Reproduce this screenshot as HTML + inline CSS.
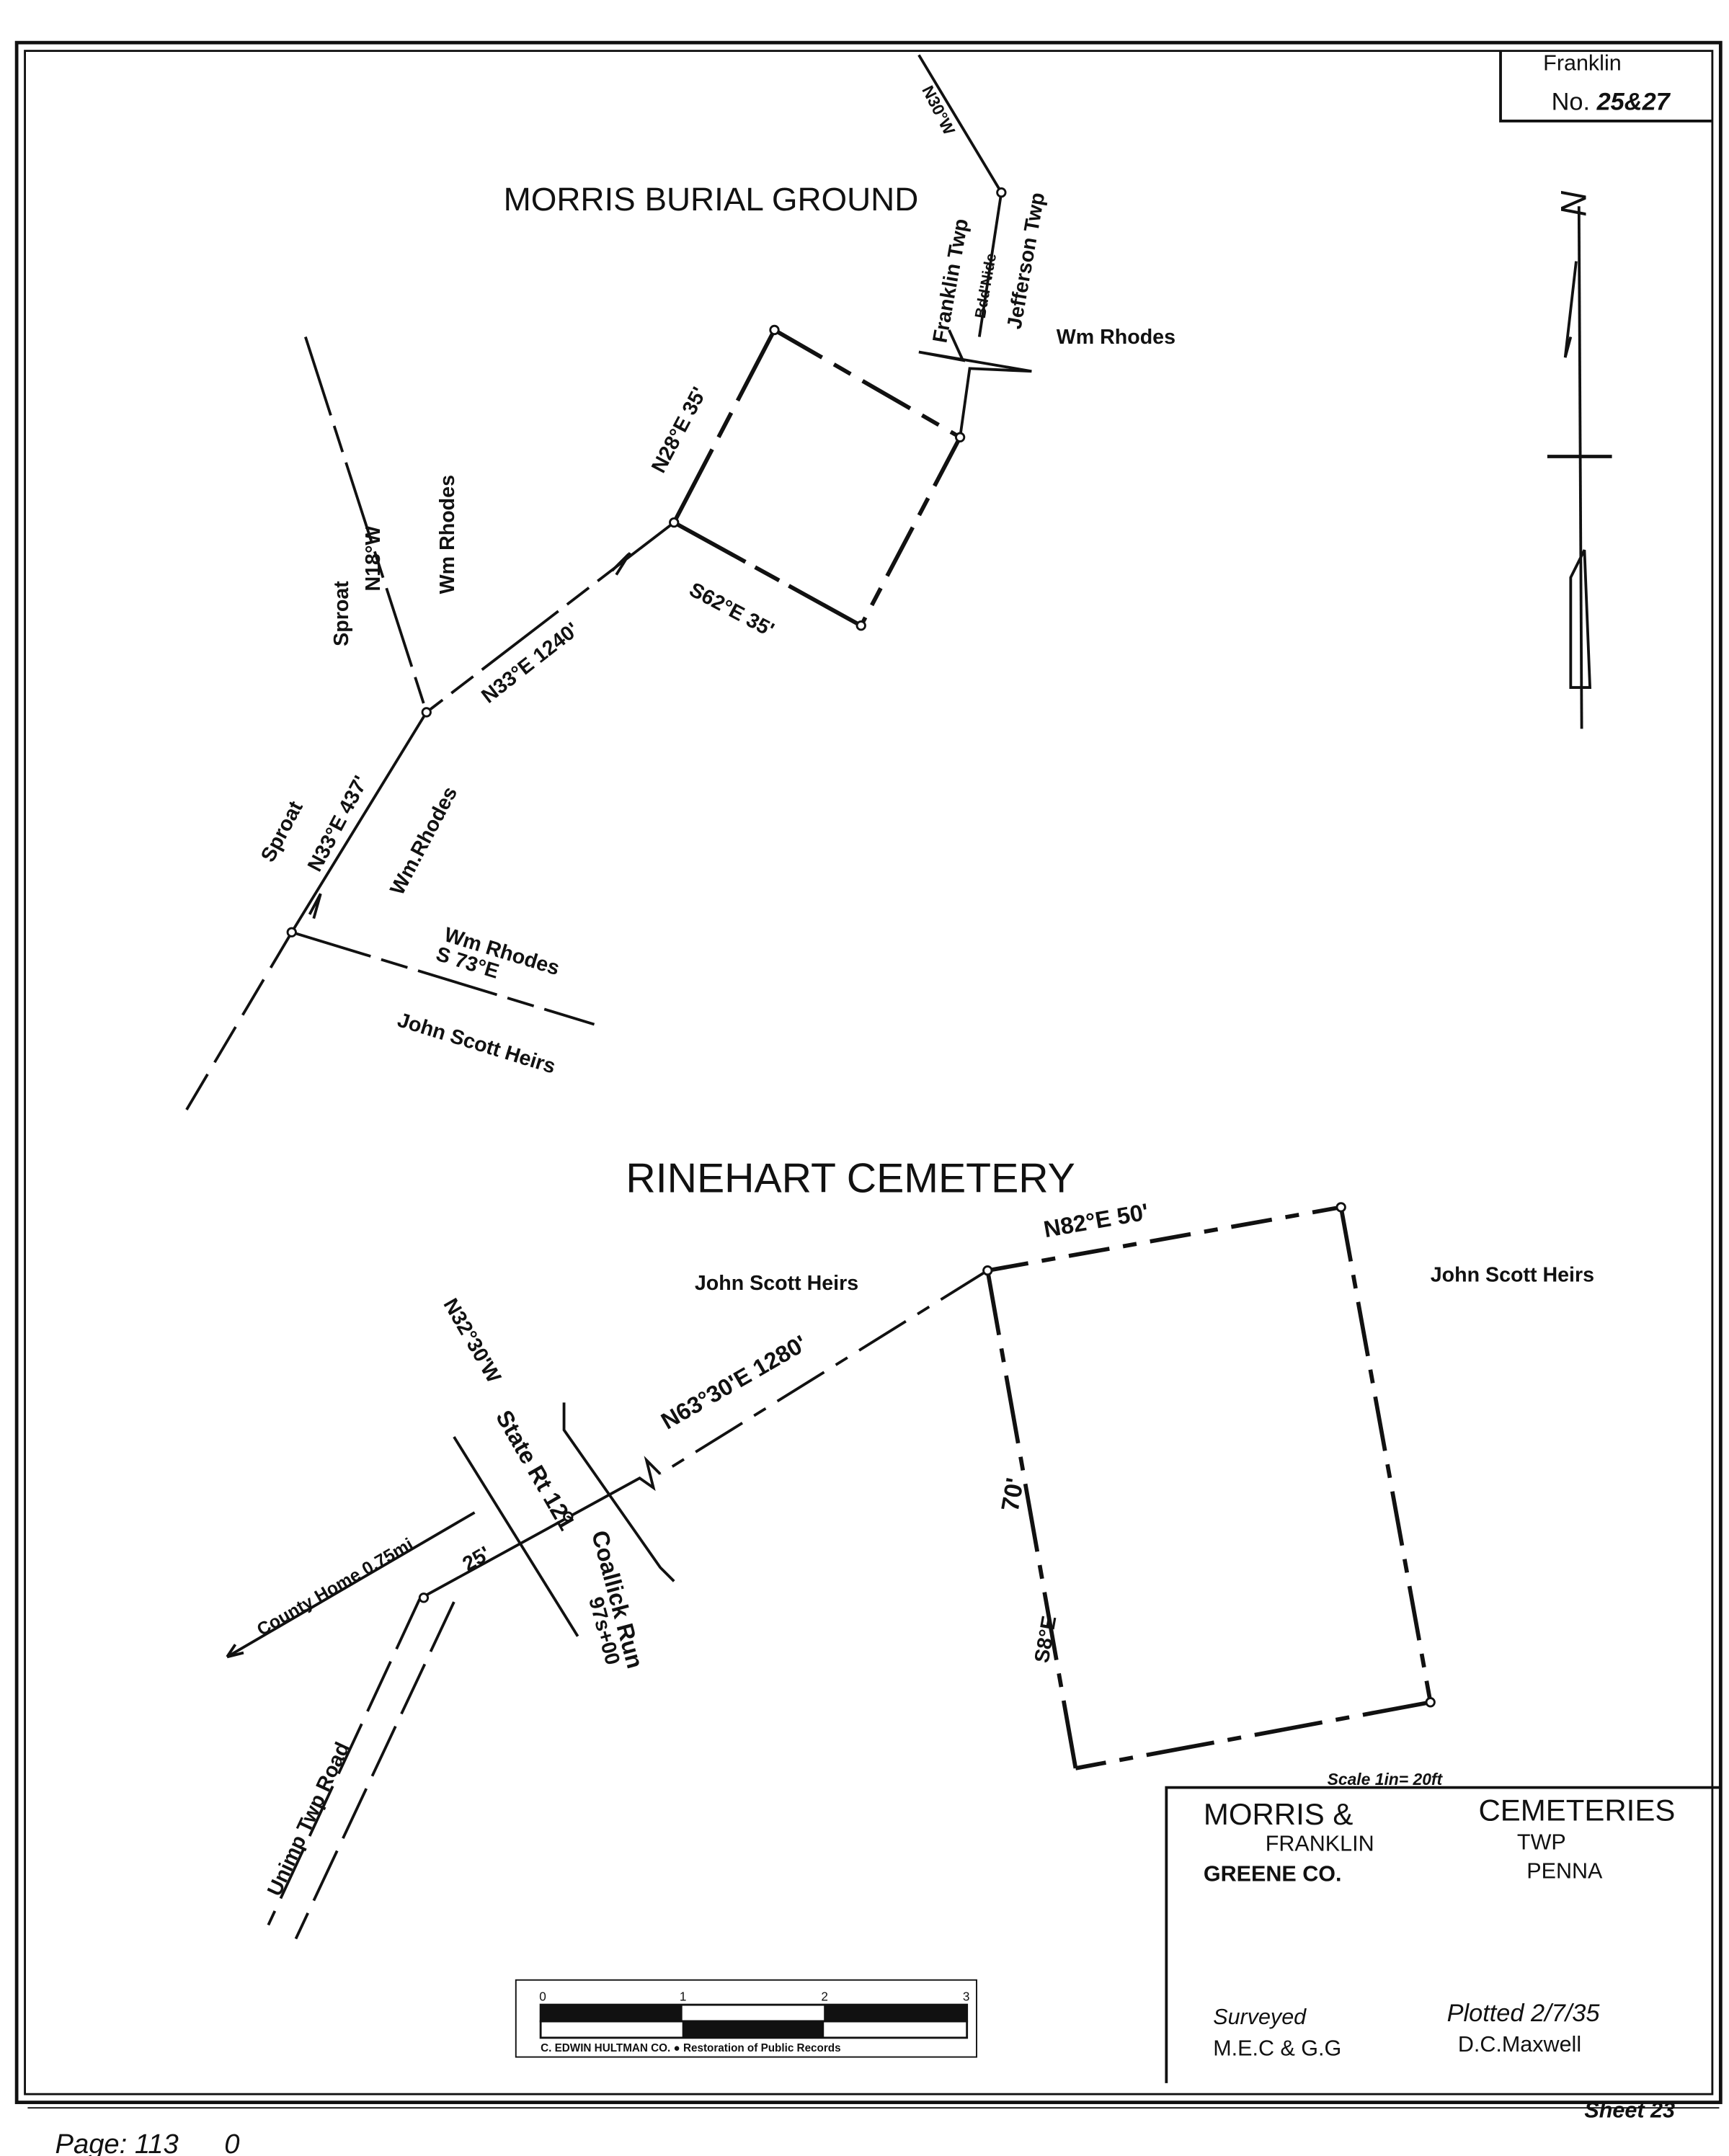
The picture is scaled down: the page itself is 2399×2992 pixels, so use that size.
<!DOCTYPE html>
<html><head><meta charset="utf-8"><style>
html,body{margin:0;padding:0;background:#fff;}
svg{display:block;}
text{font-family:"Liberation Sans",sans-serif;fill:#111;}
</style></head><body>
<svg width="2399" height="2992" viewBox="0 0 1257 1568" xmlns="http://www.w3.org/2000/svg">
<rect width="1257" height="1568" fill="#fff"/>
<g fill="none" stroke="#111">
<rect x="12" y="31" width="1239" height="1498" stroke-width="2.5"/>
<rect x="18" y="37" width="1227" height="1486" stroke-width="1.5"/>
<polyline points="1091,37 1091,88 1245,88" stroke-width="2"/>
<!-- north arrow -->
<line x1="1148" y1="150" x2="1150" y2="530" stroke-width="2"/>
<polyline points="1146,190 1138,260 1142,245" stroke-width="2"/>
<line x1="1125" y1="332" x2="1172" y2="332" stroke-width="2.5"/>
<polygon points="1152,400 1142,420 1142,500 1156,500" stroke-width="2"/>
<!-- Morris -->
<g stroke-width="3">
<line x1="563" y1="240" x2="698" y2="318" stroke-dasharray="40,10,14,10"/>
<line x1="698" y1="318" x2="626" y2="455" stroke-dasharray="40,10,14,10"/>
<line x1="626" y1="455" x2="490" y2="380" stroke-dasharray="60,8,20,8"/>
<line x1="490" y1="380" x2="563" y2="240" stroke-dasharray="60,10,20,10"/>
</g>
<g stroke-width="2">
<line x1="490" y1="380" x2="310" y2="518" stroke-dasharray="70,8,20,8"/>
<path d="M445,415 l12,-12 M448,418 l10,-16"/>
<line x1="222" y1="245" x2="310" y2="518" stroke-dasharray="60,8,20,8"/>
<line x1="310" y1="518" x2="212" y2="678"/>
<path d="M225,665 l8,-15 l-5,18"/>
<line x1="212" y1="678" x2="135" y2="808" stroke-dasharray="30,10"/>
<line x1="212" y1="678" x2="432" y2="745" stroke-dasharray="60,8,20,8"/>
<polyline points="668,40 728,140 712,245"/>
<polyline points="690,240 700,262 668,256 750,270 705,268 698,318"/>
</g>
<g fill="#fff" stroke-width="1.5">
<circle cx="563" cy="240" r="3"/><circle cx="698" cy="318" r="3"/><circle cx="626" cy="455" r="3"/><circle cx="490" cy="380" r="3"/><circle cx="310" cy="518" r="3"/><circle cx="212" cy="678" r="3"/><circle cx="728" cy="140" r="3"/>
</g>
<!-- Rinehart -->
<g stroke-width="3">
<line x1="718" y1="924" x2="975" y2="878" stroke-dasharray="30,10,10,10"/>
<line x1="975" y1="878" x2="1040" y2="1238" stroke-dasharray="40,10,10,10"/>
<line x1="1040" y1="1238" x2="782" y2="1286" stroke-dasharray="50,10,10,10"/>
<line x1="782" y1="1286" x2="718" y2="924" stroke-dasharray="50,10,10,10"/>
</g>
<g stroke-width="2">
<line x1="718" y1="924" x2="480" y2="1072" stroke-dasharray="40,10,10,10"/>
<polyline points="480,1072 470,1062 475,1082 465,1075 310,1160" />
<polyline points="330,1045 420,1190"/>
<polyline points="410,1020 410,1040 480,1140 490,1150"/>
<line x1="345" y1="1100" x2="165" y2="1205"/>
<path d="M165,1205 l12,-3 M165,1205 l6,-9"/>
<line x1="305" y1="1163" x2="195" y2="1400" stroke-dasharray="40,10"/>
<line x1="330" y1="1165" x2="215" y2="1410" stroke-dasharray="40,10"/>
</g>
<g fill="#fff" stroke-width="1.5"><circle cx="718" cy="924" r="3"/><circle cx="975" cy="878" r="3"/><circle cx="1040" cy="1238" r="3"/><circle cx="413" cy="1103" r="3"/><circle cx="308" cy="1162" r="3"/></g>
<!-- title block -->
<polyline points="848,1515 848,1300 1250,1300" stroke-width="2"/>
<!-- scale bar -->
<rect x="375" y="1440" width="335" height="56" stroke-width="1"/>
<rect x="393" y="1458" width="310" height="12" stroke-width="1.5"/>
<rect x="393" y="1470" width="310" height="12" stroke-width="1.5"/>
</g>
<rect x="393" y="1458" width="103" height="12" fill="#111"/>
<rect x="496" y="1470" width="103" height="12" fill="#111"/>
<rect x="599" y="1458" width="104" height="12" fill="#111"/>
<line x1="20" y1="1533" x2="1250" y2="1533" stroke="#111" stroke-width="1"/>
<g font-size="9"><text x="392" y="1455">0</text><text x="494" y="1455">1</text><text x="597" y="1455">2</text><text x="700" y="1455">3</text>
<text x="393" y="1492" font-weight="bold" font-size="8">C. EDWIN HULTMAN CO. ● Restoration of Public Records</text></g>
<text x="1122" y="51" font-size="16">Franklin</text>
<text x="1128" y="80" font-size="18">No. <tspan font-weight="bold" font-style="italic">25&amp;27</tspan></text>
<text x="1133" y="160" font-size="26" font-style="italic" transform="rotate(90 1145 150)">N</text>
<text x="366" y="153" font-size="24">MORRIS BURIAL GROUND</text>
<g font-size="15" font-weight="bold">
<text x="768" y="250">Wm Rhodes</text>
<text x="0" y="0" transform="translate(482,345) rotate(-62)">N28°E 35'</text>
<text x="0" y="0" transform="translate(500,432) rotate(28)">S62°E 35'</text>
<text x="0" y="0" transform="translate(355,512) rotate(-38)">N33°E 1240'</text>
<text x="0" y="0" transform="translate(253,470) rotate(-90)">Sproat</text>
<text x="0" y="0" transform="translate(276,430) rotate(-90)">N18°W</text>
<text x="0" y="0" transform="translate(330,432) rotate(-90)">Wm Rhodes</text>
<text x="0" y="0" transform="translate(198,628) rotate(-62)">Sproat</text>
<text x="0" y="0" transform="translate(232,635) rotate(-62)">N33°E 437'</text>
<text x="0" y="0" transform="translate(292,652) rotate(-62)">Wm.Rhodes</text>
<text x="0" y="0" transform="translate(322,684) rotate(17)">Wm Rhodes</text>
<text x="0" y="0" transform="translate(316,698) rotate(17)">S 73°E</text>
<text x="0" y="0" transform="translate(288,746) rotate(17)">John Scott Heirs</text>
<text x="0" y="0" transform="translate(688,250) rotate(-80)">Franklin Twp</text>
<text x="0" y="0" transform="translate(716,232) rotate(-80)" font-size="11">Bdd'Nide</text>
<text x="0" y="0" transform="translate(742,240) rotate(-80)">Jefferson Twp</text>
<text x="0" y="0" transform="translate(670,65) rotate(63)" font-size="12">N30°W</text>
<text x="505" y="938">John Scott Heirs</text>
<text x="1040" y="932">John Scott Heirs</text>
<text x="0" y="0" transform="translate(760,900) rotate(-10)" font-size="17">N82°E 50'</text>
<text x="0" y="0" transform="translate(485,1040) rotate(-30)" font-size="17">N63°30'E 1280'</text>
<text x="0" y="0" transform="translate(322,948) rotate(60)">N32°30'W</text>
<text x="0" y="0" transform="translate(360,1030) rotate(60)" font-size="17">State Rt 121</text>
<text x="0" y="0" transform="translate(430,1115) rotate(75)" font-size="17">Coallick Run</text>
<text x="0" y="0" transform="translate(428,1163) rotate(75)">97s+00</text>
<text x="0" y="0" transform="translate(190,1190) rotate(-30)" font-size="13">County Home 0.75mi</text>
<text x="0" y="0" transform="translate(340,1143) rotate(-30)">25'</text>
<text x="0" y="0" transform="translate(203,1380) rotate(-65)">Unimp Twp Road</text>
<text x="0" y="0" transform="translate(740,1100) rotate(-80)" font-size="18">70'</text>
<text x="0" y="0" transform="translate(762,1210) rotate(-80)">S8°E</text>
<text x="965" y="1298" font-size="12" font-style="italic">Scale 1in= 20ft</text>
</g>
<text x="455" y="867" font-size="30">RINEHART CEMETERY</text>
<g font-size="22"><text x="875" y="1327">MORRIS &amp;</text><text x="1075" y="1324">CEMETERIES</text></g>
<g font-size="16"><text x="920" y="1346">FRANKLIN</text><text x="1103" y="1345">TWP</text>
<text x="875" y="1368" font-weight="bold">GREENE CO.</text><text x="1110" y="1366">PENNA</text>
<text x="882" y="1472" font-style="italic">Surveyed</text><text x="882" y="1495">M.E.C &amp; G.G</text>
<text x="1052" y="1470" font-style="italic" font-size="18">Plotted 2/7/35</text><text x="1060" y="1492">D.C.Maxwell</text>
<text x="1152" y="1540" font-style="italic" font-weight="bold">Sheet 23</text>
<text x="40" y="1566" font-style="italic" font-size="20">Page: 113 &#160;&#160;&#160;&#160;&#160;0</text></g>
</svg>
</body></html>
